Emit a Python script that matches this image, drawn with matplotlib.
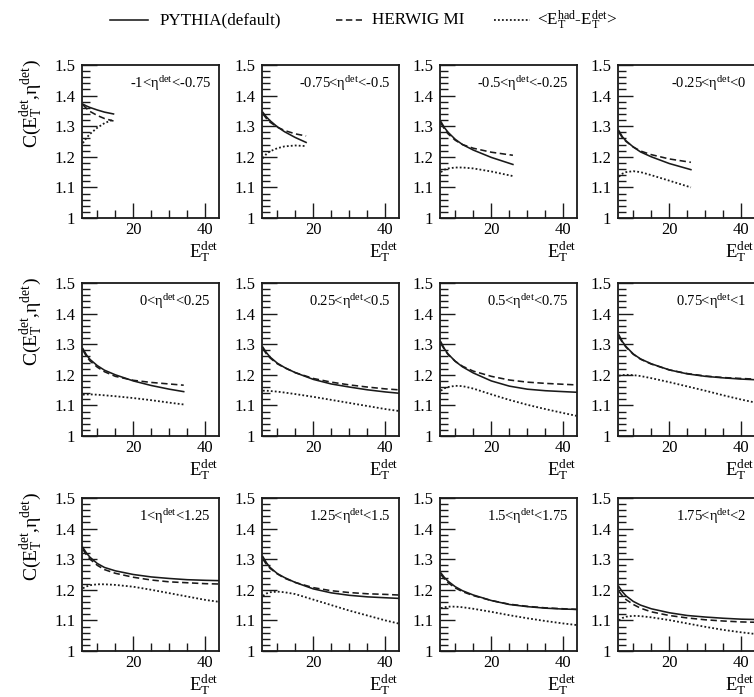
import matplotlib
matplotlib.use("Agg")
import matplotlib.pyplot as plt
from matplotlib.ticker import MultipleLocator
from matplotlib.lines import Line2D

plt.rcParams['font.family'] = ['Liberation Serif', 'DejaVu Serif']
plt.rcParams['mathtext.fontset'] = 'custom'
plt.rcParams['mathtext.rm'] = 'Liberation Serif'
plt.rcParams['mathtext.it'] = 'Liberation Serif:italic'

# ---------------- data ----------------
x_grid = [6, 7, 8, 10, 12, 15, 20, 25, 30, 35, 40, 43.6]

eta_labels = ["-1<η$^{\\rm det}$<-0.75", "-0.75<η$^{\\rm det}$<-0.5",
              "-0.5<η$^{\\rm det}$<-0.25", "-0.25<η$^{\\rm det}$<0",
              "0<η$^{\\rm det}$<0.25", "0.25<η$^{\\rm det}$<0.5",
              "0.5<η$^{\\rm det}$<0.75", "0.75<η$^{\\rm det}$<1",
              "1<η$^{\\rm det}$<1.25", "1.25<η$^{\\rm det}$<1.5",
              "1.5<η$^{\\rm det}$<1.75", "1.75<η$^{\\rm det}$<2"]

x_p1 = [6, 7, 8, 10, 12, 14.5]
x_p2 = [6, 7, 8, 10, 12, 15, 18]
x_p3 = [6, 7, 8, 10, 12, 15, 20, 26]
x_p4 = [6, 7, 8, 10, 12, 15, 20, 26]
x_p5 = [6, 7, 8, 10, 12, 15, 20, 25, 30, 34]

pythia_p1 = [1.372, 1.366, 1.361, 1.353, 1.346, 1.340]
herwig_p1 = [1.370, 1.358, 1.348, 1.335, 1.325, 1.317]
diff_p1 = [1.245, 1.262, 1.275, 1.295, 1.310, 1.322]

pythia_p2 = [1.345, 1.330, 1.318, 1.298, 1.282, 1.263, 1.247]
herwig_p2 = [1.340, 1.325, 1.313, 1.297, 1.286, 1.275, 1.268]
diff_p2 = [1.195, 1.210, 1.218, 1.228, 1.234, 1.237, 1.235]

pythia_p3 = [1.315, 1.295, 1.280, 1.257, 1.240, 1.222, 1.198, 1.175]
herwig_p3 = [1.310, 1.290, 1.275, 1.254, 1.240, 1.228, 1.215, 1.205]
diff_p3 = [1.150, 1.158, 1.162, 1.165, 1.165, 1.162, 1.152, 1.137]

pythia_p4 = [1.285, 1.265, 1.252, 1.232, 1.216, 1.200, 1.178, 1.158]
herwig_p4 = [1.280, 1.262, 1.250, 1.232, 1.219, 1.207, 1.193, 1.182]
diff_p4 = [1.135, 1.145, 1.150, 1.153, 1.150, 1.140, 1.122, 1.100]

pythia_p5 = [1.285, 1.265, 1.250, 1.230, 1.215, 1.200, 1.180, 1.165, 1.153, 1.145]
herwig_p5 = [1.280, 1.260, 1.245, 1.225, 1.210, 1.195, 1.182, 1.175, 1.170, 1.166]
diff_p5 = [1.135, 1.136, 1.136, 1.135, 1.133, 1.130, 1.124, 1.117, 1.109, 1.103]

pythia_p6 = [1.290, 1.272, 1.258, 1.238, 1.224, 1.207, 1.185, 1.170, 1.160, 1.151, 1.144, 1.140]
herwig_p6 = [1.285, 1.268, 1.255, 1.236, 1.223, 1.207, 1.188, 1.176, 1.167, 1.160, 1.154, 1.151]
diff_p6 = [1.148, 1.148, 1.147, 1.145, 1.142, 1.137, 1.128, 1.118, 1.108, 1.098, 1.088, 1.082]

pythia_p7 = [1.307, 1.285, 1.268, 1.244, 1.226, 1.206, 1.180, 1.163, 1.153, 1.148, 1.145, 1.143]
herwig_p7 = [1.302, 1.282, 1.266, 1.244, 1.228, 1.212, 1.195, 1.183, 1.176, 1.172, 1.169, 1.167]
diff_p7 = [1.148, 1.156, 1.160, 1.164, 1.163, 1.155, 1.136, 1.118, 1.102, 1.088, 1.075, 1.066]

pythia_p8 = [1.330, 1.308, 1.292, 1.268, 1.252, 1.236, 1.216, 1.203, 1.195, 1.190, 1.186, 1.184]
herwig_p8 = [1.325, 1.305, 1.290, 1.267, 1.251, 1.235, 1.216, 1.204, 1.196, 1.191, 1.188, 1.186]
diff_p8 = [1.197, 1.199, 1.200, 1.199, 1.196, 1.189, 1.176, 1.162, 1.148, 1.133, 1.119, 1.110]

pythia_p9 = [1.338, 1.320, 1.306, 1.286, 1.273, 1.262, 1.250, 1.242, 1.237, 1.233, 1.231, 1.230]
herwig_p9 = [1.332, 1.314, 1.300, 1.280, 1.266, 1.254, 1.241, 1.232, 1.226, 1.223, 1.220, 1.219]
diff_p9 = [1.205, 1.211, 1.215, 1.218, 1.218, 1.216, 1.210, 1.200, 1.189, 1.178, 1.167, 1.161]

pythia_p10 = [1.308, 1.288, 1.273, 1.253, 1.240, 1.224, 1.203, 1.190, 1.182, 1.177, 1.174, 1.172]
herwig_p10 = [1.300, 1.283, 1.270, 1.252, 1.238, 1.224, 1.207, 1.197, 1.191, 1.187, 1.185, 1.183]
diff_p10 = [1.180, 1.188, 1.192, 1.194, 1.192, 1.186, 1.168, 1.150, 1.132, 1.116, 1.100, 1.090]

pythia_p11 = [1.255, 1.240, 1.228, 1.210, 1.197, 1.183, 1.165, 1.152, 1.145, 1.140, 1.137, 1.136]
herwig_p11 = [1.250, 1.235, 1.223, 1.206, 1.194, 1.181, 1.165, 1.153, 1.146, 1.141, 1.138, 1.136]
diff_p11 = [1.140, 1.143, 1.145, 1.145, 1.143, 1.138, 1.128, 1.117, 1.107, 1.098, 1.090, 1.085]

pythia_p12 = [1.210, 1.193, 1.180, 1.162, 1.150, 1.138, 1.125, 1.116, 1.111, 1.107, 1.104, 1.103]
herwig_p12 = [1.195, 1.180, 1.168, 1.152, 1.140, 1.128, 1.116, 1.108, 1.102, 1.098, 1.095, 1.094]
diff_p12 = [1.100, 1.108, 1.112, 1.115, 1.114, 1.110, 1.101, 1.090, 1.079, 1.069, 1.061, 1.056]

panels = [
    (x_p1, pythia_p1, herwig_p1, diff_p1),
    (x_p2, pythia_p2, herwig_p2, diff_p2),
    (x_p3, pythia_p3, herwig_p3, diff_p3),
    (x_p4, pythia_p4, herwig_p4, diff_p4),
    (x_p5, pythia_p5, herwig_p5, diff_p5),
    (x_grid, pythia_p6, herwig_p6, diff_p6),
    (x_grid, pythia_p7, herwig_p7, diff_p7),
    (x_grid, pythia_p8, herwig_p8, diff_p8),
    (x_grid, pythia_p9, herwig_p9, diff_p9),
    (x_grid, pythia_p10, herwig_p10, diff_p10),
    (x_grid, pythia_p11, herwig_p11, diff_p11),
    (x_grid, pythia_p12, herwig_p12, diff_p12),
]

series_labels = ["PYTHIA(default)", "HERWIG MI",
                 "<E$_{\\rm T}^{\\rm had}$-E$_{\\rm T}^{\\rm det}$>"]

# ---------------- layout ----------------
W, H = 754, 697
fig = plt.figure(figsize=(W / 100, H / 100), dpi=100)
fig.patch.set_facecolor('white')

col_left = [82, 262, 440, 618]
row_top = [65, 283, 498]
pw, ph = 137, 153

dash_solid = dict(color='#1a1a1a', lw=1.15, ls='-')
dash_dash = dict(color='#1a1a1a', lw=1.15, ls=(0, (4.0, 2.2)))
dash_dot = dict(color='#1a1a1a', lw=1.3, ls=(0, (1, 1.2)))

for i, (xs, py, hw, df) in enumerate(panels):
    r, c = divmod(i, 4)
    l = col_left[c] / W
    b = 1 - (row_top[r] + ph) / H
    ax = fig.add_axes([l, b, pw / W, ph / H])
    ax.plot(xs, py, **dash_solid)
    ax.plot(xs, hw, **dash_dash)
    ax.plot(xs, df, **dash_dot)
    ax.set_xlim(5.75, 43.8)
    ax.set_ylim(1.0, 1.5)
    ax.xaxis.set_major_locator(MultipleLocator(20))
    ax.xaxis.set_minor_locator(MultipleLocator(5))
    ax.yaxis.set_major_locator(MultipleLocator(0.1))
    ax.yaxis.set_minor_locator(MultipleLocator(0.02))
    ax.set_yticks([1.0, 1.1, 1.2, 1.3, 1.4, 1.5])
    ax.set_yticklabels(["1", "1.1", "1.2", "1.3", "1.4", "1.5"])
    ax.tick_params(which='both', direction='in', top=False, right=False,
                   width=1.0, color='#1a1a1a', labelsize=12)
    ax.tick_params(which='major', length=11)
    ax.tick_params(which='minor', length=5.5)
    ax.tick_params(axis='y', pad=5)
    ax.tick_params(axis='x', pad=3)
    for s in ax.spines.values():
        s.set_linewidth(1.3)
        s.set_color('#1a1a1a')
    ax.text(0.94, 0.88, eta_labels[i], transform=ax.transAxes,
            ha='right', va='center', fontsize=10.5)
    ax.text(0.89, -0.22, "E$_{\\rm T}^{\\rm det}$", transform=ax.transAxes,
            ha='center', va='center', fontsize=13.5)
    if c == 0:
        fig.text(31 / W, 1 - (row_top[r] - 6) / H,
                 "C(E$_{\\rm T}^{\\rm det}$,η$^{\\rm det}$)",
                 rotation=90, ha='center', va='top', fontsize=14)

# ---------------- legend ----------------
ly = 1 - 20 / H
styles = [dash_solid, dash_dash, dash_dot]
seg = [(110, 148), (336, 362), (494, 530)]
tx = [160, 372, 537]
for st, (x0, x1), t, lab in zip(styles, seg, tx, series_labels):
    fig.add_artist(Line2D([x0 / W, x1 / W], [ly, ly], transform=fig.transFigure, **st))
    fig.text(t / W, ly, lab, ha='left', va='center', fontsize=12.3)

fig.savefig("out.png", dpi=100, facecolor='white')
